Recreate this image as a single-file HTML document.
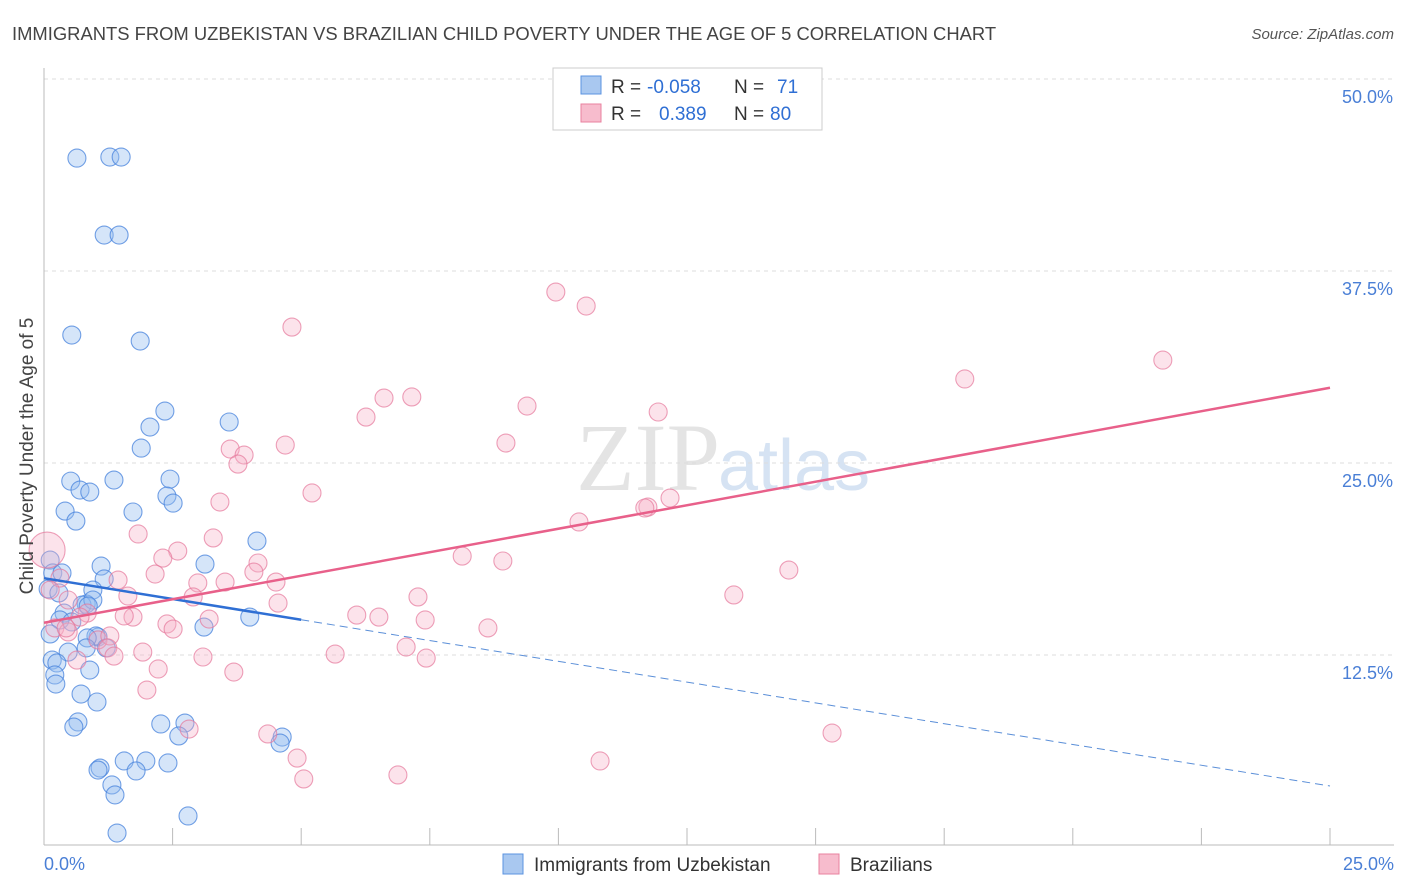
<!DOCTYPE html>
<html><head><meta charset="utf-8"><style>
body{margin:0;background:#fff;font-family:"Liberation Sans",sans-serif;}
svg{display:block}
</style></head><body>
<svg width="1406" height="892">
<text x="12" y="40" font-size="18.4" fill="#444">IMMIGRANTS FROM UZBEKISTAN VS BRAZILIAN CHILD POVERTY UNDER THE AGE OF 5 CORRELATION CHART</text>
<text x="1394" y="39" font-size="15" fill="#555" font-style="italic" text-anchor="end">Source: ZipAtlas.com</text>
<text x="720" y="490" font-size="96" fill="#e4e4e4" text-anchor="end" font-family="Liberation Serif">ZIP</text>
<text x="718" y="490" font-size="72" fill="#d6e3f3">atlas</text>
<g id="grid"></g>
<g id="axes"></g>
<g id="pts"></g>
<g id="lines"></g>
<text transform="translate(33,456) rotate(-90)" font-size="19" fill="#444" text-anchor="middle">Child Poverty Under the Age of 5</text>
<text x="44" y="870" font-size="18" fill="#4a7fd6">0.0%</text>
<text x="1394" y="870" font-size="18" fill="#4a7fd6" text-anchor="end">25.0%</text>
<g>
<rect x="553" y="68" width="269" height="62" fill="#fff" stroke="#ccc"/>
<rect x="581" y="76" width="20" height="18" fill="#a9c8f0" stroke="#5b93e0"/>
<rect x="581" y="104" width="20" height="18" fill="#f7bccd" stroke="#e8829f"/>
<text x="611" y="93" font-size="19" fill="#333">R =</text>
<text x="647" y="93" font-size="19" fill="#2f6fd4">-0.058</text>
<text x="734" y="93" font-size="19" fill="#333">N =</text>
<text x="777" y="93" font-size="19" fill="#2f6fd4">71</text>
<text x="611" y="120" font-size="19" fill="#333">R =</text>
<text x="659" y="120" font-size="19" fill="#2f6fd4">0.389</text>
<text x="734" y="120" font-size="19" fill="#333">N =</text>
<text x="770" y="120" font-size="19" fill="#2f6fd4">80</text>
</g>
<g>
<rect x="503" y="854" width="20" height="20" fill="#a9c8f0" stroke="#5b93e0"/>
<text x="534" y="871" font-size="19" fill="#333">Immigrants from Uzbekistan</text>
<rect x="819" y="854" width="20" height="20" fill="#f7bccd" stroke="#e8829f"/>
<text x="850" y="871" font-size="19" fill="#333">Brazilians</text>
</g>
</svg>
<script>
const yTicks=[12.5,25,37.5,50];
const yTickLabels=["12.5%","25.0%","37.5%","50.0%"];
const blueX=[0.64,1.28,1.50,1.17,1.46,0.54,1.87,2.35,3.60,2.06,1.89,2.45,0.52,1.36,0.70,0.89,2.39,2.51,0.41,1.73,0.62,4.14,3.13,1.11,0.12,0.17,0.35,1.17,0.08,0.95,0.29,0.82,0.74,0.95,0.39,0.86,0.31,0.54,4.00,3.11,0.12,1.05,1.01,0.84,1.21,0.82,0.47,0.16,0.25,0.21,0.23,0.89,0.72,1.03,0.66,0.58,2.27,2.74,2.62,4.63,4.59,1.56,1.98,2.41,1.09,1.05,1.79,1.32,1.38,2.80,1.42];
const blueY=[44.85,44.92,44.92,39.84,39.84,33.33,32.94,28.38,27.67,27.34,25.97,23.95,23.82,23.89,23.24,23.11,22.85,22.39,21.87,21.81,21.22,19.92,18.42,18.29,18.68,17.84,17.84,17.45,16.80,16.73,16.54,15.82,15.75,16.08,15.23,15.69,14.78,14.65,14.97,14.32,13.87,13.67,13.74,13.61,12.96,12.96,12.69,12.17,11.98,11.20,10.61,11.52,9.96,9.44,8.14,7.81,8.01,8.07,7.23,7.16,6.77,5.60,5.60,5.47,5.14,5.01,4.95,4.04,3.39,2.02,0.91];
const pinkX=[0.06,9.95,10.54,4.82,21.75,17.90,6.61,7.15,6.26,9.39,11.94,4.69,8.98,3.62,3.89,3.77,5.21,3.42,12.17,11.74,11.68,10.40,1.83,3.29,2.60,2.31,8.13,8.92,4.16,14.48,4.08,2.16,1.44,4.51,3.52,2.99,0.31,1.63,2.90,7.27,4.55,13.41,0.84,1.73,1.56,6.08,6.51,3.21,7.41,2.39,2.51,0.21,0.47,0.43,8.63,1.05,1.28,1.24,1.36,1.92,7.04,7.43,5.66,3.09,0.64,2.22,3.69,2.00,2.82,4.35,15.32,4.92,10.81,6.88,5.05,0.47,0.12,0.70];
const pinkY=[19.33,36.13,35.22,33.85,31.70,30.47,29.23,29.30,27.99,28.71,28.32,26.17,26.30,25.91,25.52,24.93,23.05,22.46,22.72,22.13,22.07,21.16,20.38,20.12,19.27,18.81,18.94,18.62,18.49,18.03,17.90,17.77,17.38,17.25,17.25,17.19,17.51,16.34,16.28,16.28,15.88,16.41,15.23,14.97,15.04,15.10,14.97,14.84,14.78,14.52,14.19,14.26,14.00,14.26,14.26,13.48,13.74,12.96,12.43,12.69,13.02,12.30,12.56,12.37,12.17,11.59,11.39,10.22,7.68,7.36,7.42,5.79,5.60,4.69,4.43,16.08,16.73,14.97];
const blueTrend=[17.5,3.97];
const pinkTrend=[14.6,29.9];
const NS="http://www.w3.org/2000/svg";
const X0=44,X1=1330,Y0=847,YPX=192/12.5;
function sx(v){return X0+(X1-X0)*v/25;}
function sy(v){return Y0-v*YPX;}
function mk(tag,attrs,parent){const e=document.createElementNS(NS,tag);for(const k in attrs)e.setAttribute(k,attrs[k]);parent.appendChild(e);return e;}
const grid=document.getElementById('grid');
yTicks.forEach((t,i)=>{
  const l=mk('line',{x1:44,x2:1394,y1:sy(t),y2:sy(t),stroke:'#ddd','stroke-dasharray':'4,4'},grid);
  
  
  const tx=mk('text',{x:1393,y:sy(t)+24,'font-size':18,fill:'#4a7fd6','text-anchor':'end'},grid);
  tx.textContent=yTickLabels[i];
  
  
});
const axes=document.getElementById('axes');
const ya=mk('line',{x1:44,x2:44,y1:68,y2:845,stroke:'#bbb'},axes);


const xa=mk('line',{x1:44,x2:1394,y1:845,y2:845,stroke:'#bbb'},axes);


for(let i=1;i<=10;i++){const t=mk('line',{x1:sx(i*2.5),x2:sx(i*2.5),y1:828,y2:845,stroke:'#bbb'},axes);

}
const pts=document.getElementById('pts');
blueX.forEach((x,i)=>{const c=mk('circle',{cx:sx(x),cy:sy(blueY[i]),r:9,fill:'rgba(150,190,240,0.4)',stroke:'rgba(70,130,220,0.75)','stroke-width':1.1},pts);

});
pinkX.forEach((x,i)=>{const c=mk('circle',{cx:sx(x),cy:sy(pinkY[i]),r:i==0?18:9,fill:'rgba(245,175,198,0.35)',stroke:'rgba(230,120,155,0.7)','stroke-width':1.1},pts);

});
const lines=document.getElementById('lines');
const bsy=v=>sy(blueTrend[0]+(blueTrend[1]-blueTrend[0])*v/25);
const b1=mk('line',{x1:sx(0),y1:bsy(0),x2:sx(5),y2:bsy(5),stroke:'#2f6fd4','stroke-width':2.5},lines);


const b2=mk('line',{x1:sx(5),y1:bsy(5),x2:sx(25),y2:bsy(25),stroke:'#5b8fd8','stroke-width':1,'stroke-dasharray':'8,5'},lines);


const p1=mk('line',{x1:sx(0),y1:sy(pinkTrend[0]),x2:sx(25),y2:sy(pinkTrend[1]),stroke:'#e8608a','stroke-width':2.5},lines);


</script>
</body></html>
